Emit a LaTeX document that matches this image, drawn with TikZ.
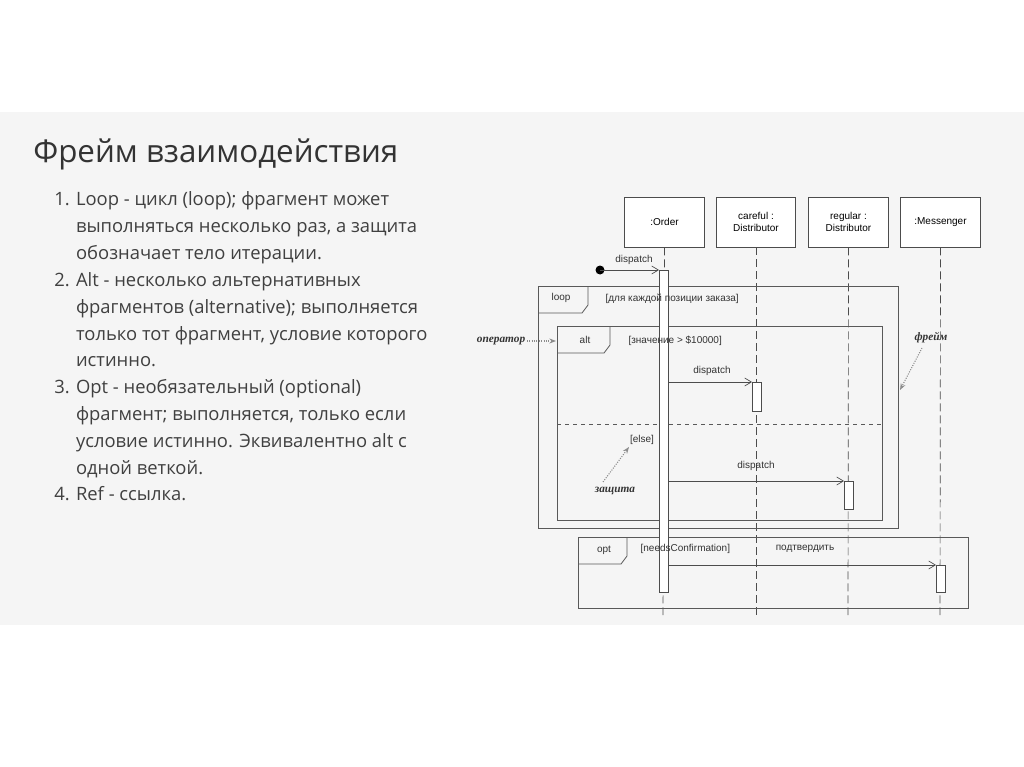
\documentclass[tikz,border=0pt]{standalone}
\usepackage{fontspec}
\setmainfont{Open Sans}
\newfontfamily\dia{Liberation Sans}
\newfontfamily\ital{Liberation Serif}
\usetikzlibrary{arrows.meta}
\begin{document}
\begin{tikzpicture}[x=0.75pt,y=-0.75pt,
  frm/.style={draw=black!65,line width=0.6pt},
  obj/.style={draw=black!70,line width=0.6pt,fill=white,minimum width=59.5pt,minimum height=37.5pt,align=center,font=\dia\fontsize{7.5}{8.5}\selectfont,inner sep=1pt},
  life/.style={draw=black!70,dash pattern=on 6pt off 3pt,line width=0.5pt},
  act/.style={draw=black!70,fill=white,line width=0.6pt},
  msg/.style={draw=black!70,line width=0.5pt,-{Straight Barb[length=5pt,width=6pt]}},
  lbl/.style={font=\dia\fontsize{7.5}{8.5}\selectfont,text=black!80,inner sep=1pt},
  ann/.style={font=\ital\itshape\bfseries\fontsize{8.5}{9}\selectfont,text=black!80,inner sep=1pt},
  annar/.style={draw=black!45,densely dotted,line width=0.8pt,-{Stealth[length=5pt]}},
  item/.style={anchor=base west,font=\fontsize{13.8}{16}\selectfont,text=black!75,inner sep=0pt}]
\useasboundingbox (0,0) rectangle (1024,767);
\fill[white] (0,0) rectangle (1024,767);
\fill[black!4] (0,112) rectangle (1024,625);
% left text
\node[anchor=base west,font=\fontsize{23.5}{26}\selectfont,text=black!80,inner sep=0pt] (title) at (33,162) {Фрейм взаимодействия};
\foreach \n/\y/\t in {a/205/{1. Loop - цикл (loop); фрагмент может},
  b/232/{\hphantom{1. }выполняться несколько раз, а защита},
  c/259/{\hphantom{1. }обозначает тело итерации.},
  d/286/{2. Alt - несколько альтернативных},
  e/313/{\hphantom{1. }фрагментов (alternative); выполняется},
  f/340/{\hphantom{1. }только тот фрагмент, условие которого},
  g/366/{\hphantom{1. }истинно.},
  h/393/{3. Opt - необязательный (optional)},
  i/420/{\hphantom{1. }фрагмент; выполняется, только если},
  j/447/{\hphantom{1. }условие истинно. Эквивалентно alt с},
  k/474/{\hphantom{1. }одной веткой.},
  l/500/{4. Ref - ссылка.}}
  \node[item] (t\n) at (54,\y) {\t};
% lifelines
\foreach \n/\x in {o/663,c/756,r/848,m/940} \coordinate (e\n) at (\x,615);
\node[obj] (O) at (664.5,222) {:Order};
\node[obj] (C) at (756,222) {careful :\\Distributor};
\node[obj] (R) at (848.5,222) {regular :\\Distributor};
\node[obj] (M) at (940.5,222) {:Messenger};
\draw[life] (O.south) -- (eo);
\draw[life] (C.south) -- (ec);
\draw[life] (R.south) -- (er);
\draw[life] (M.south) -- (em);
% frames
\draw[frm] (538,286) rectangle (898,528);
\draw[frm] (538,313) -- (582,313) -- (588,305) -- (588,286);
\draw[frm,fill=none] (557,326) rectangle (882,520);
\draw[frm] (557,353) -- (604,353) -- (610,345) -- (610,326);
\draw[draw=black!65,dashed,line width=0.5pt] (557,424) -- (882,424);
\draw[frm] (578,537) rectangle (968,608);
\draw[frm] (578,564) -- (621,564) -- (627,556) -- (627,537);
% activations
\draw[act] (659,270) rectangle (668,592);
\draw[act] (752,382) rectangle (761,411);
\draw[act] (844,481) rectangle (853,509);
\draw[act] (936,565) rectangle (945,592);
% labels
\node[lbl,anchor=west] (loopl) at (550,298) {loop};
\node[lbl,anchor=west] (loopg) at (604,299) {[для каждой позиции заказа]};
\node[lbl] (altl) at (585,340) {alt};
\node[lbl,anchor=west] (altg) at (627,341) {[значение > \$10000]};
\node[lbl] (else) at (642,440) {[else]};
\node[lbl] (optl) at (604,550) {opt};
\node[lbl,anchor=west] (optg) at (639,549) {[needsConfirmation]};
\coordinate (a0) at (659,270);
\coordinate (a1) at (752,382);
\coordinate (a2) at (844,481);
\coordinate (a3) at (936,565);
\coordinate (s1) at (668,382);
\coordinate (s2) at (668,481);
\coordinate (s3) at (668,565);
\fill[black] (600,270) circle (4.5);
\coordinate (dot) at (600,270);
\draw[msg] (dot) -- (a0);
\node[lbl] (m0) at (634,260) {dispatch};
\draw[msg] (s1) -- (a1);
\node[lbl] (m1) at (712,371) {dispatch};
\draw[msg] (s2) -- (a2);
\node[lbl] (m2) at (756,466) {dispatch};
\draw[msg] (s3) -- (a3);
\node[lbl] (m3) at (805,549) {подтвердить};
% annotations
\node[ann] (opr) at (501,341) {оператор};
\coordinate (oprt) at (556,341);
\draw[annar] (opr.east) -- (oprt);
\node[ann] (frm) at (931,338) {фрейм};
\coordinate (frmt) at (900,390);
\draw[annar] (922,348) -- (frmt);
\node[ann] (grd) at (615,491) {защита};
\coordinate (grdt) at (629,447);
\draw[annar] (603,482) -- (grdt);
\end{tikzpicture}
\end{document}
